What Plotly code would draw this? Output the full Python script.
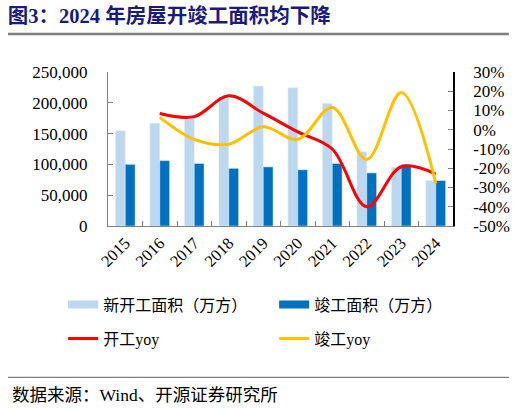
import plotly.graph_objects as go

# 房屋新开工 / 竣工面积（万方）与同比
years = ['2015', '2016', '2017', '2018', '2019', '2020', '2021', '2022', '2023', '2024']
new_start = [154454, 166928, 178654, 209342, 227154, 224433, 198895, 120587, 95376, 73893]
completed = [100039, 106128, 101486, 93550, 95942, 91218, 101412, 86222, 99831, 73743]

yoy_years = ['2016', '2017', '2018', '2019', '2020', '2021', '2022', '2023', '2024']
start_yoy = [0.084, 0.068, 0.176, 0.086, -0.011, -0.10, -0.40, -0.192, -0.23]
complete_yoy = [0.064, -0.05, -0.075, 0.015, -0.05, 0.115, -0.154, 0.193, -0.278]

right_ticks = [0.3, 0.2, 0.1, 0.0, -0.1, -0.2, -0.3, -0.4, -0.5]
right_labels = ['30%', '20%', '10%', '0%', '-10%', '-20%', '-30%', '-40%', '-50%']

FONT = 'Liberation Serif, Noto Sans CJK SC'
LIGHT = '#BDD7EE'
DARK = '#0070C0'
RED = '#FF0000'
GOLD = '#FFC000'

fig = go.Figure()
fig.add_trace(go.Bar(x=years, y=new_start, marker_color=LIGHT, showlegend=False))
fig.add_trace(go.Bar(x=years, y=completed, marker_color=DARK, showlegend=False))
fig.add_trace(go.Scatter(x=yoy_years, y=start_yoy, yaxis='y2', mode='lines',
                         line=dict(color=RED, width=3, shape='spline', smoothing=1),
                         showlegend=False))
fig.add_trace(go.Scatter(x=yoy_years, y=complete_yoy, yaxis='y2', mode='lines',
                         line=dict(color=GOLD, width=3, shape='spline', smoothing=1),
                         showlegend=False))

# legend-only entries (wide swatches like the original)
fig.add_trace(go.Scatter(x=[None], y=[None], mode='lines', name='新开工面积（万方）',
                         line=dict(color=LIGHT, width=8), legend='legend'))
fig.add_trace(go.Scatter(x=[None], y=[None], mode='lines', name='竣工面积（万方）',
                         line=dict(color=DARK, width=8), legend='legend'))
fig.add_trace(go.Scatter(x=[None], y=[None], mode='lines', name='开工yoy',
                         line=dict(color=RED, width=3), legend='legend2'))
fig.add_trace(go.Scatter(x=[None], y=[None], mode='lines', name='竣工yoy',
                         line=dict(color=GOLD, width=3), legend='legend2'))

axis_font = dict(family=FONT, size=17, color='black')
legend_font = dict(family=FONT, size=16, color='black')
fig.update_layout(
    width=522, height=408,
    margin=dict(l=108, r=63, t=72, b=182),
    paper_bgcolor='white', plot_bgcolor='white',
    font=dict(family=FONT, color='black'),
    barmode='group', bargap=0.43, bargroupgap=0,
    title=dict(text='<b>图3：2024 年房屋开竣工面积均下降</b>', xref='container', yref='container',
               x=0.015, xanchor='left', y=0.962, yanchor='middle',
               font=dict(family=FONT, size=20.5, color='#1a1a80')),
    xaxis=dict(type='category', showline=True, linecolor='#808080', linewidth=1,
               ticks='inside', ticklen=5, tickcolor='#808080', tickson='boundaries',
               tickangle=-45, tickfont=dict(family=FONT, size=16.5, color='black'),
               showgrid=False),
    yaxis=dict(range=[0, 250000], dtick=50000, tickformat=',', showline=True,
               linecolor='#808080', linewidth=1, ticks='inside', ticklen=5,
               tickcolor='#808080', tickfont=axis_font, showgrid=False, zeroline=False,
               ticklabelstandoff=16),
    yaxis2=dict(overlaying='y', side='right', range=[-0.5, 0.3],
                tickvals=right_ticks, ticktext=right_labels, showline=True,
                linecolor='black', linewidth=1.5, ticks='inside', ticklen=5,
                tickcolor='#808080', tickfont=axis_font, showgrid=False, zeroline=False,
                ticklabelstandoff=15),
    legend=dict(orientation='h', x=-0.13, xanchor='left', y=-0.40, yanchor='top',
                entrywidth=166, font=legend_font, bgcolor='rgba(0,0,0,0)'),
    legend2=dict(orientation='h', x=-0.13, xanchor='left', y=-0.62, yanchor='top',
                 entrywidth=166, font=legend_font, bgcolor='rgba(0,0,0,0)'),
    shapes=[
        dict(type='line', xref='paper', yref='paper', x0=-0.29, x1=1.162, y0=1.247, y1=1.247,
             line=dict(color='#808080', width=2.5)),
        dict(type='line', xref='paper', yref='paper', x0=-0.29, x1=1.162, y0=-0.983, y1=-0.983,
             line=dict(color='#808080', width=1.2)),
    ],
    annotations=[
        dict(text='数据来源：Wind、开源证券研究所', xref='paper', yref='paper',
             x=-0.285, xanchor='left', y=-1.095, yanchor='middle', showarrow=False,
             font=dict(family=FONT, size=17.5, color='black')),
    ],
)

fig.write_html('out.html', config={'displayModeBar': False},
               post_script="document.body.style.margin='0';")
